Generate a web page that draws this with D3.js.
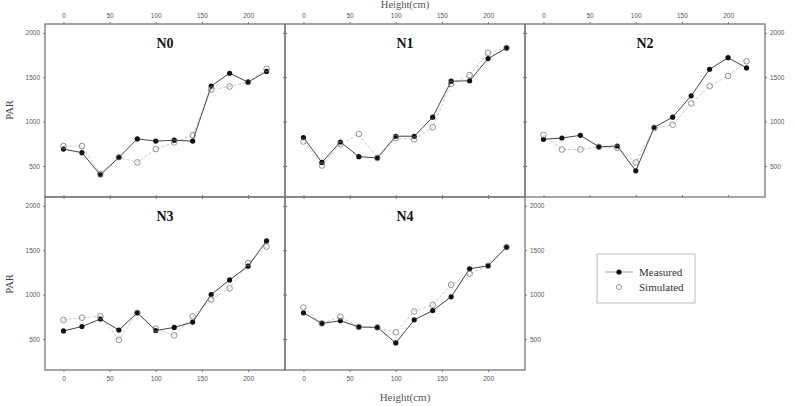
<!DOCTYPE html>
<html><head><meta charset="utf-8">
<script src="https://cdn.jsdelivr.net/npm/d3@7"></script>
<style>body{margin:0;background:#fff}svg{display:block}</style>
</head><body>
<svg id="c" width="794" height="406"></svg>
<script>
const heights = [0,20,40,60,80,100,120,140,160,180,200,220];
const panelNames = ["N0","N1","N2","N3","N4"];
const measuredN0 = [690,650,400,595,805,780,790,780,1400,1545,1445,1565];
const simulatedN0 = [725,725,410,600,540,690,765,845,1360,1395,1445,1595];
const measuredN1 = [820,540,770,605,590,835,835,1050,1455,1460,1710,1830];
const simulatedN1 = [775,505,745,860,590,815,800,935,1425,1525,1775,1830];
const measuredN2 = [800,815,845,715,725,445,935,1050,1290,1590,1720,1605];
const simulatedN2 = [850,685,685,715,705,540,925,965,1205,1400,1515,1680];
const measuredN3 = [590,640,725,600,795,595,630,690,1000,1165,1320,1605];
const simulatedN3 = [715,740,755,490,795,615,540,755,945,1070,1355,1540];
const measuredN4 = [795,675,705,635,630,455,715,820,975,1290,1325,1535];
const simulatedN4 = [855,675,750,635,630,575,810,885,1110,1235,1325,1535];
const xTicks = [0,50,100,150,200];
const yTicks = [500,1000,1500,2000];
const legendLabels = ["Measured","Simulated"];

const measured = [measuredN0,measuredN1,measuredN2,measuredN3,measuredN4];
const simulated = [simulatedN0,simulatedN1,simulatedN2,simulatedN3,simulatedN4];

const svg = d3.select("#c");
const cols = [45,285,525,765];
const rows = [24,197,370];
const lineCol = "#777";
const tickFont = "Liberation Sans, Arial, sans-serif";
const serif = "Liberation Serif, Times New Roman, serif";

panelNames.forEach((name,i)=>{
  const r = Math.floor(i/3), c = i%3;
  const x0 = cols[c], x1 = cols[c+1], y0 = rows[r], y1 = rows[r+1];
  const x = d3.scaleLinear().domain([-20,240]).range([x0,x1]);
  const y = d3.scaleLinear().domain([150,2100]).range([y1,y0]);
  const g = svg.append("g");

  g.append("rect").attr("x",x0).attr("y",y0).attr("width",x1-x0).attr("height",y1-y0)
    .attr("fill","none").attr("stroke",lineCol).attr("stroke-width",1.3);

  const showTop = r===0, showBottom = r===1;
  const showLeft = c===0, showRight = (c===2) || (i===4);
  const styleAxis = (sel, labels)=>{
    sel.select(".domain").remove();
    sel.selectAll("line").attr("stroke",lineCol);
    sel.selectAll("text").attr("font-family",tickFont).attr("font-size","6.5px").attr("fill","#555");
    if(!labels) sel.selectAll("text").remove();
  };
  g.append("g").attr("transform",`translate(0,${y0})`)
    .call(d3.axisTop(x).tickValues(xTicks).tickSize(showTop?2:-2).tickPadding(4).tickFormat(d3.format("d")))
    .call(s=>styleAxis(s,showTop));
  g.append("g").attr("transform",`translate(0,${y1})`)
    .call(d3.axisBottom(x).tickValues(xTicks).tickSize(showBottom?2:-2).tickPadding(4).tickFormat(d3.format("d")))
    .call(s=>styleAxis(s,showBottom));
  g.append("g").attr("transform",`translate(${x0},0)`)
    .call(d3.axisLeft(y).tickValues(yTicks).tickSize(showLeft?2:-2).tickPadding(3).tickFormat(d3.format("d")))
    .call(s=>styleAxis(s,showLeft));
  g.append("g").attr("transform",`translate(${x1},0)`)
    .call(d3.axisRight(y).tickValues(yTicks).tickSize(showRight?2:-2).tickPadding(3).tickFormat(d3.format("d")))
    .call(s=>styleAxis(s,showRight));

  const line = d3.line().x((d,k)=>x(heights[k])).y(d=>y(d));
  g.append("path").datum(simulated[i]).attr("d",line).attr("fill","none")
    .attr("stroke","#bbb").attr("stroke-width",0.8).attr("stroke-dasharray","3,2");
  g.append("path").datum(measured[i]).attr("d",line).attr("fill","none")
    .attr("stroke","#444").attr("stroke-width",1);
  g.selectAll(".m").data(measured[i]).enter().append("circle")
    .attr("cx",(d,k)=>x(heights[k])).attr("cy",d=>y(d)).attr("r",2.6).attr("fill","#111");
  g.selectAll(".s").data(simulated[i]).enter().append("circle")
    .attr("cx",(d,k)=>x(heights[k])).attr("cy",d=>y(d)).attr("r",2.8)
    .attr("fill","none").attr("stroke","#777").attr("stroke-width",0.8);

  g.append("text").attr("x",(x0+x1)/2).attr("y",y0+24).attr("text-anchor","middle")
    .attr("font-family",serif).attr("font-weight","bold").attr("font-size","14px").attr("fill","#111").text(name);
});

svg.append("text").attr("x",405).attr("y",8).attr("text-anchor","middle")
  .attr("font-family",serif).attr("font-size","10.5px").attr("fill","#555").text("Height(cm)");
svg.append("text").attr("x",405).attr("y",401).attr("text-anchor","middle")
  .attr("font-family",serif).attr("font-size","11px").attr("fill","#555").text("Height(cm)");
[110,284].forEach(cy=>{
  svg.append("text").attr("transform",`translate(13,${cy}) rotate(-90)`).attr("text-anchor","middle")
    .attr("font-family",serif).attr("font-size","10.5px").attr("fill","#444").text("PAR");
});

const lg = svg.append("g");
lg.append("rect").attr("x",597).attr("y",254).attr("width",98).attr("height",49)
  .attr("fill","#fff").attr("stroke","#bbb").attr("stroke-width",1);
legendLabels.forEach((lab,k)=>{
  const cy = 272 + k*15;
  if(k===0){
    lg.append("line").attr("x1",605).attr("x2",633).attr("y1",cy).attr("y2",cy).attr("stroke","#888").attr("stroke-width",0.8);
    lg.append("circle").attr("cx",619).attr("cy",cy).attr("r",2.6).attr("fill","#111");
  } else {
    lg.append("circle").attr("cx",619).attr("cy",cy).attr("r",2.6).attr("fill","none").attr("stroke","#888").attr("stroke-width",0.8);
  }
  lg.append("text").attr("x",639).attr("y",cy+4).attr("font-family",serif).attr("font-size","11px")
    .attr("fill","#333").text(lab);
});
</script>
</body></html>
